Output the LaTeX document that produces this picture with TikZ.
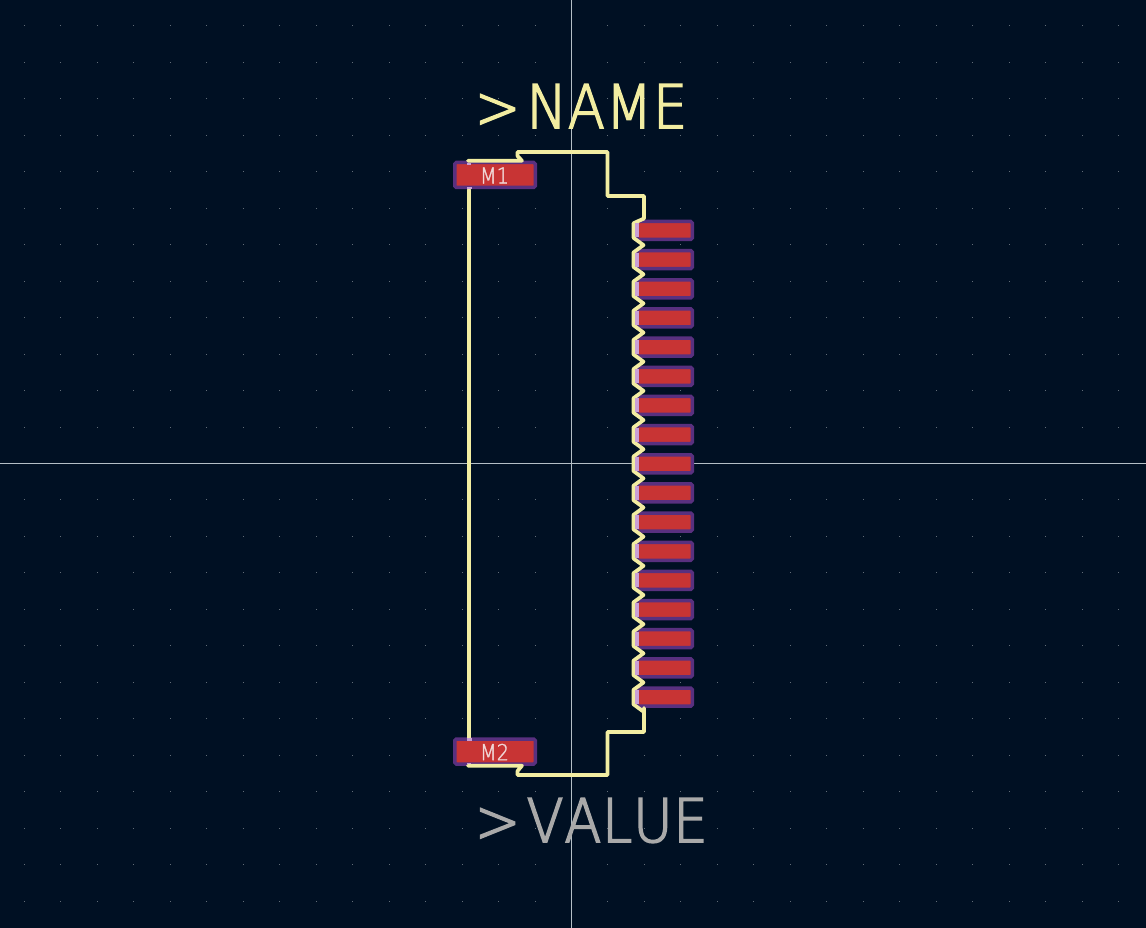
\documentclass[tikz,border=0pt]{standalone}
\usepackage{fontspec}
\newfontfamily\silkfont[LetterSpace=1.4,FakeStretch=0.9,FakeBold=2.6,Kerning=Off]{DejaVu Sans ExtraLight}
\newfontfamily\padfont[FakeStretch=0.88,FakeBold=1.5]{DejaVu Sans ExtraLight}
\definecolor{bg}{HTML}{001023}
\definecolor{griddot}{HTML}{626D78}
\definecolor{cross}{HTML}{B4BFC6}
\definecolor{silk}{HTML}{F2EDA1}
\definecolor{padred}{HTML}{C83434}
\definecolor{padedge}{HTML}{59307F}
\definecolor{overlap}{HTML}{C9A0D6}
\definecolor{valuegrey}{HTML}{A9A9A9}
\definecolor{padtext}{HTML}{F0D6D6}
\tikzset{
  silkline/.style={draw=silk,line width=3.7pt,line join=round,line cap=round},
  padbox/.style={draw=padedge,fill=padred,line width=3.5pt,rounded corners=1.5pt,minimum height=#1,inner sep=0pt,outer sep=0pt},
  patch/.style={fill=overlap,draw=none},
  bigtext/.style={inner sep=0pt,outer sep=0pt,anchor=base west,font=\silkfont\fontsize{60}{60}\selectfont},
  padlabel/.style={inner sep=0pt,outer sep=0pt,text=padtext,font=\padfont\fontsize{22}{22}\selectfont}
}
\begin{document}
\begin{tikzpicture}[x=1pt,y=-1pt]
\useasboundingbox (0,0) rectangle (1146,928);
\fill[bg] (0,0) rectangle (1146,928);
% grid
\foreach \i in {-15,...,15}{
  \foreach \j in {-12,...,12}{
    \fill[griddot] ({571.5+36.47*\i-0.5},{463.5+36.47*\j-0.5}) rectangle ++(1,1);
  }
}
% crosshair
\draw[cross,line width=1pt] (571.5,0) -- (571.5,928);
\draw[cross,line width=1pt] (0,463.5) -- (1146,463.5);
% pads
\node[padbox=25pt,minimum width=80.5pt] (m1) at (495,175) {};
\node[padbox=25pt,minimum width=80.5pt] (m2) at (495,751.5) {};
\foreach \k in {0,...,16}{
  \node[padbox=18pt,minimum width=55.5pt] (p\k) at (664.5,{230.5+29.16*\k}) {};
}
% silk
\draw[silkline] (469,190) -- (469,738);
\draw[silkline] (468,160.7) -- (522,160.7) -- (517.5,156) -- (517.5,152) -- (607.5,152) -- (607.5,196) -- (644,196) -- (644,218.5)
  \foreach \k in {0,...,16}{
    -- (633.5,{223.2+29.16*\k}) -- (633.5,{237.8+29.16*\k}) -- (643.5,{245.1+29.16*\k})
  };
\draw[silkline] (468,765.7) -- (522,765.7) -- (517.5,771) -- (517.5,775) -- (607.5,775) -- (607.5,732) -- (644,732) -- (644,708);
% overlap patches
\foreach \k in {0,...,16}{
  \fill[patch] (635.4,{223.5+29.16*\k}) rectangle (639,{237.5+29.16*\k});
}
\fill[patch] (467,162.8) rectangle (471,165);
\fill[patch] (467,187) rectangle (472,189);
\fill[patch] (467,762.5) rectangle (471,763.7);
\fill[patch] (467,738) rectangle (472,741);
% labels
\node[padlabel] (m1t) at (494.5,175.5) {M1};
\node[padlabel] (m2t) at (494.5,752) {M2};
\node[bigtext,text=silk] (name) at (475,128) {>\kern6.4pt NAME};
\node[bigtext,text=valuegrey] (value) at (475,842) {>\kern6.4pt VALUE};
\end{tikzpicture}
\end{document}
